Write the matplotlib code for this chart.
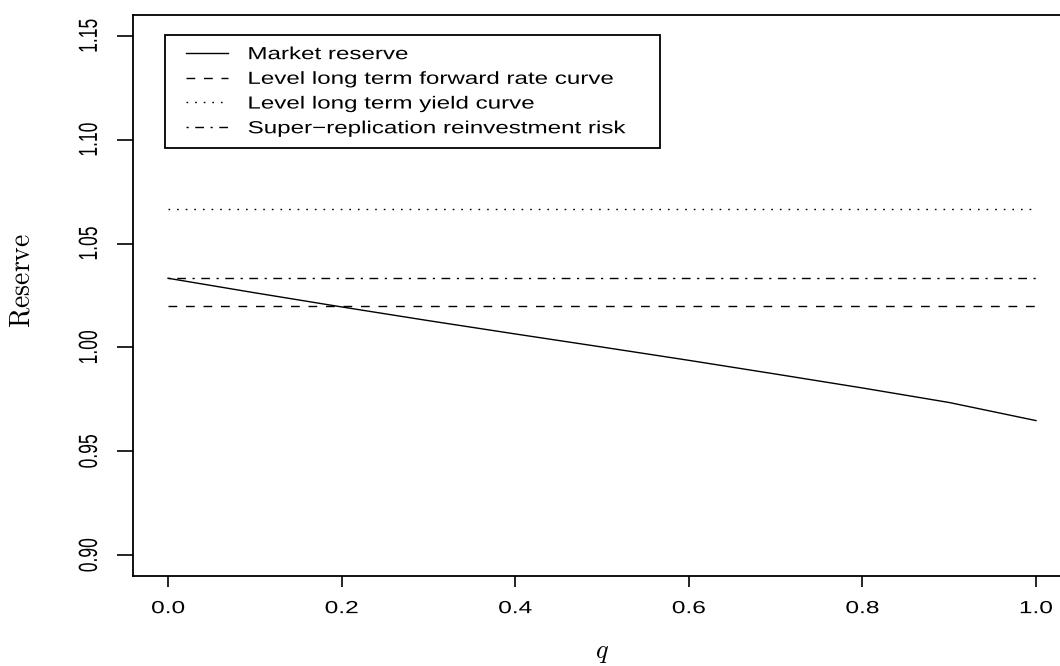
import matplotlib
matplotlib.use("Agg")
import matplotlib.pyplot as plt
from matplotlib import patheffects
from matplotlib.lines import Line2D
from matplotlib.legend_handler import HandlerLine2D
from matplotlib.transforms import Affine2D

# ---- data -------------------------------------------------------------
q = [0.0, 0.1, 0.2, 0.3, 0.4, 0.5, 0.6, 0.7, 0.8, 0.9, 1.0]
market_reserve = [1.0333, 1.0263, 1.0195, 1.0129, 1.0065, 1.0002,
                  0.9938, 0.9872, 0.9805, 0.9735, 0.9648]
level_forward_rate = 1.0200
level_yield_curve = 1.0667
super_replication = 1.0333

x_ticks = [0.0, 0.2, 0.4, 0.6, 0.8, 1.0]
x_tick_labels = ["0.0", "0.2", "0.4", "0.6", "0.8", "1.0"]
y_ticks = [0.90, 0.95, 1.00, 1.05, 1.10, 1.15]
y_tick_labels = ["0.90", "0.95", "1.00", "1.05", "1.10", "1.15"]
series_labels = ["Market reserve",
                 "Level long term forward rate curve",
                 "Level long term yield curve",
                 "Super\u2212replication reinvestment risk"]


class WideText(patheffects.AbstractPathEffect):
    """Draw text glyphs widened horizontally on screen."""

    def __init__(self, factor, anchor="center"):
        super().__init__()
        self._factor = factor
        self._anchor = anchor

    def draw_path(self, renderer, gc, tpath, affine, rgbFace=None):
        ext = tpath.get_extents(affine)
        x0 = ext.x0 if self._anchor == "left" else 0.5 * (ext.x0 + ext.x1)
        stretch = Affine2D().translate(-x0, 0).scale(self._factor, 1).translate(x0, 0)
        renderer.draw_path(gc, tpath, affine + stretch, rgbFace)


plt.rcParams["mathtext.fontset"] = "cm"
sans = "Liberation Sans"
fs = 12.6

W, H = 1060, 666
fig = plt.figure(figsize=(W / 100, H / 100), dpi=100)
left, right, top, bottom = 133.3, 1070.7, 15.0, 576.0
ax = fig.add_axes([left / W, 1 - bottom / H, (right - left) / W, (bottom - top) / H])

lw = 1.0
ax.plot(q, market_reserve, color="black", lw=lw, linestyle="-",
        label=series_labels[0])
ax.plot(q, [level_forward_rate] * len(q), color="black", lw=lw,
        linestyle=(0, (6.3, 6.3)), label=series_labels[1])
ax.plot(q, [level_yield_curve] * len(q), color="black", lw=lw,
        linestyle=(0, (1.2, 5.0)), label=series_labels[2])
ax.plot(q, [super_replication] * len(q), color="black", lw=lw,
        linestyle=(0, (1.6, 4.7, 6.3, 4.7)), label=series_labels[3])

ax.set_xlim(-0.04, 1.04)
ax.set_ylim(0.89, 1.16)
ax.set_xticks(x_ticks)
ax.set_xticklabels(x_tick_labels, fontfamily=sans, fontsize=fs)
ax.set_yticks(y_ticks)
ax.set_yticklabels(y_tick_labels, fontfamily=sans, fontsize=fs,
                   rotation=90, va="center")

for sp in ax.spines.values():
    sp.set_linewidth(1.3)
ax.tick_params(axis="x", length=8.1, width=1.2, pad=10.0, direction="out")
ax.tick_params(axis="y", length=11.5, width=1.2, pad=14.7, direction="out")

for t in ax.get_xticklabels():
    t.set_path_effects([WideText(1.40)])
for t in ax.get_yticklabels():
    t.set_path_effects([WideText(1.50)])
    t.set_va("center")

ax.set_xlabel(r"$q$", fontsize=19, va="center")
ax.xaxis.set_label_coords(0.5, (bottom - 652) / (bottom - top))
ax.set_ylabel(r"$\mathrm{Reserve}$", fontsize=20, va="center")
ax.yaxis.set_label_coords((22 - left) / (right - left), (bottom - 280) / (bottom - top))

leg = ax.legend(loc="upper left",
                bbox_to_anchor=(165 / W, 0, 495 / W, 1 - 35 / H),
                bbox_transform=fig.transFigure, mode="expand",
                borderaxespad=0, borderpad=0.68, labelspacing=0.54,
                handlelength=2.92, handletextpad=1.14,
                fancybox=False, framealpha=1, edgecolor="black",
                prop={"family": sans, "size": fs},
                handler_map={Line2D: HandlerLine2D(xpad=0.52)})
leg.get_frame().set_linewidth(1.3)
for t in leg.get_texts():
    t.set_path_effects([WideText(1.38, "left")])

fig.savefig("out.png", dpi=100)
